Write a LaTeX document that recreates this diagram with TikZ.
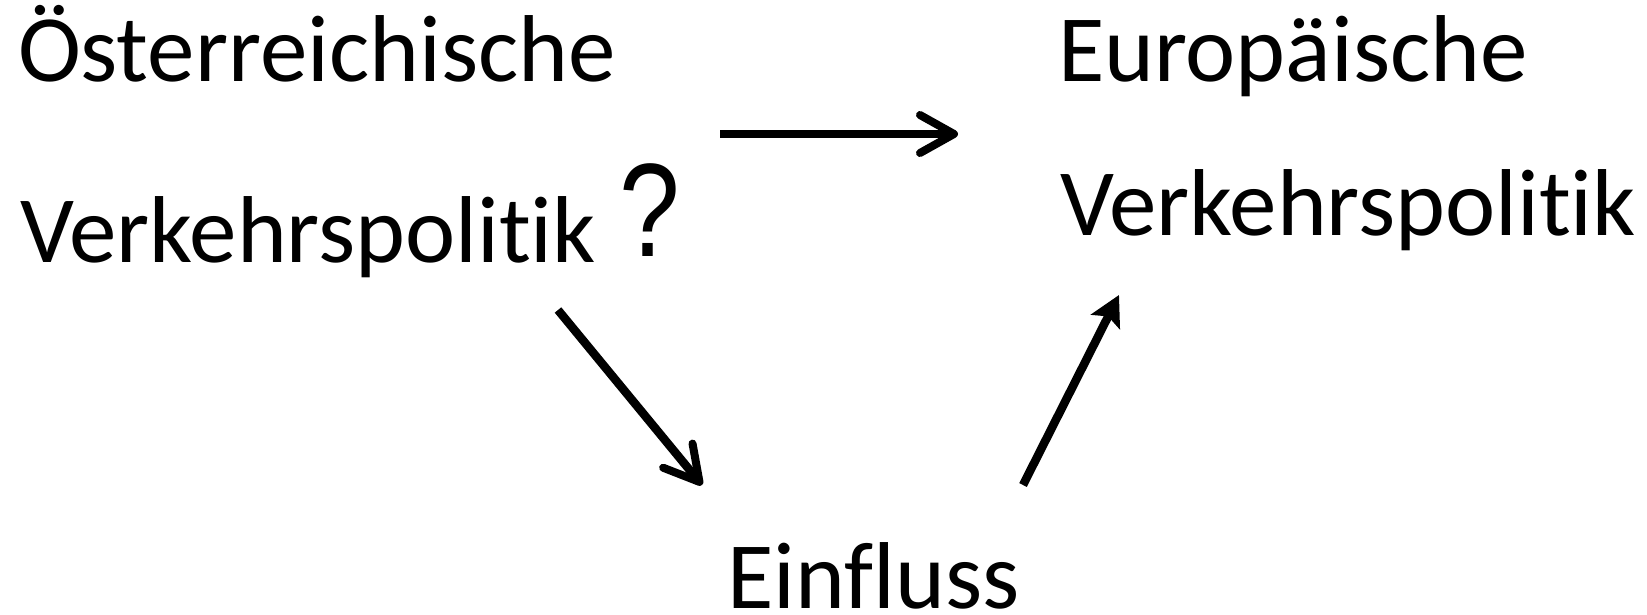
\documentclass[tikz,border=0pt]{standalone}
\usepackage{fontspec}
\setmainfont{Carlito}[Ligatures={NoCommon,NoContextual}]
\newfontfamily\qfont{Liberation Sans}
\usetikzlibrary{arrows.meta}
\tikzset{
  lbl/.style={anchor=base west, inner sep=0pt, outer sep=0pt, font=\fontsize{95}{100}\selectfont},
  qmark/.style={anchor=base west, inner sep=0pt, outer sep=0pt, font=\qfont\fontsize{133}{135}\selectfont, xscale=0.82},
  barb/.style={line width=8.5pt, -{Straight Barb[length=34pt, width=38pt, line width=8pt, round]}},
  solidarrow/.style={line width=8.5pt, -{Stealth[length=30pt, width=32pt, inset=6pt]}}
}
\begin{document}
\begin{tikzpicture}[x=1pt, y=-1pt]
\useasboundingbox (0,0) rectangle (1647,615);
\node[lbl] (oe1) at (18,82) {Österreichische};
\node[lbl] (oe2) at (20,262) {Verkehrspolitik};
\node[qmark] (q) at (619,256) {?};
\node[lbl] (eu1) at (1058,82) {Europäische};
\node[lbl] (eu2) at (1060,235) {Verkehrspolitik};
\node[lbl] (ein) at (727,608) {Einfluss};
\coordinate (a1s) at (720,134);
\coordinate (a1e) at (958,134);
\coordinate (a2s) at (558,310);
\coordinate (a2e) at (702,485);
\coordinate (a3s) at (1023,485);
\coordinate (a3e) at (1119,295);
\draw[barb] (a1s) -- (a1e);
\draw[barb] (a2s) -- (a2e);
\draw[solidarrow] (a3s) -- (a3e);
\end{tikzpicture}
\end{document}
